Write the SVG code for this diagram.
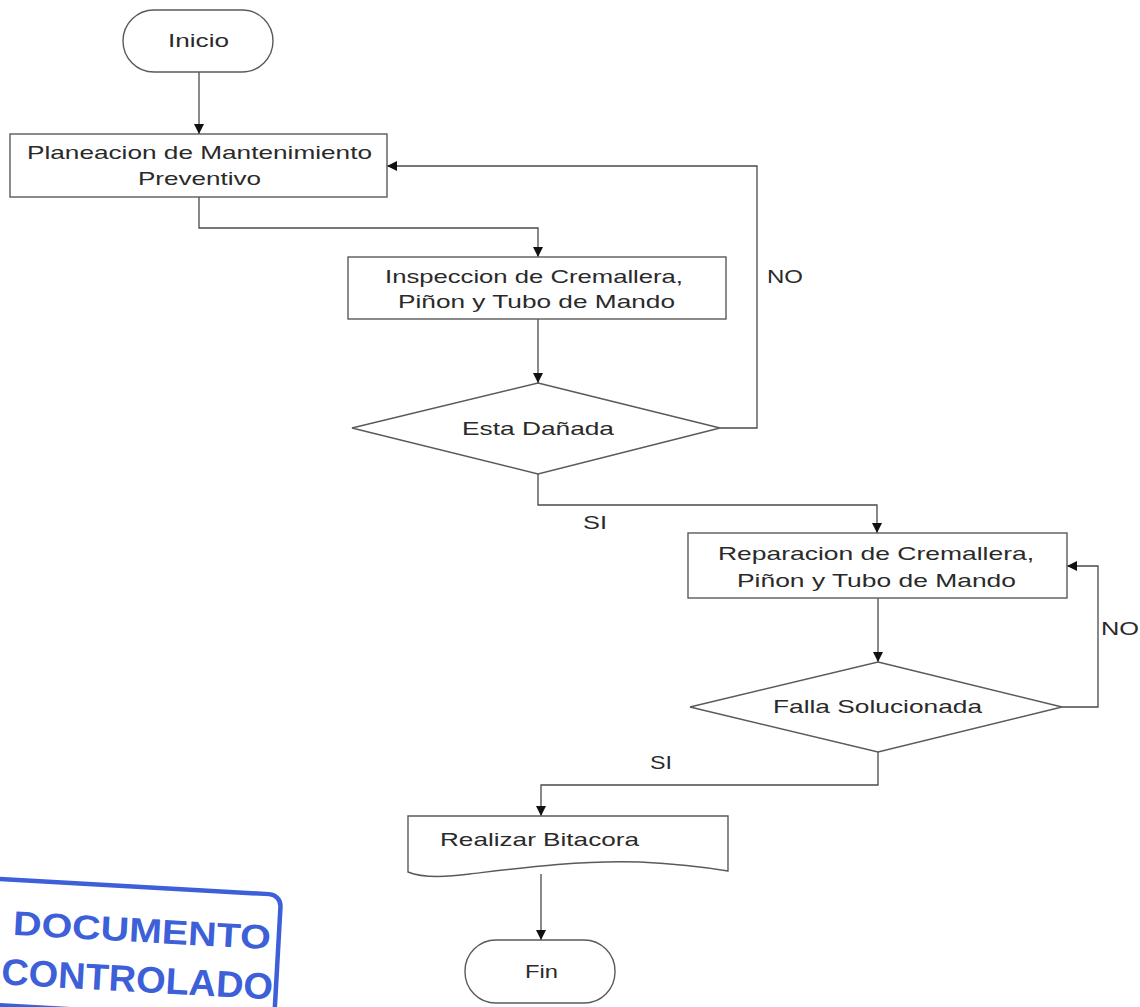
<svg xmlns="http://www.w3.org/2000/svg" width="1140" height="1007" viewBox="0 0 1140 1007">
<defs>
<style>
.shape{fill:#ffffff;stroke:#5a5a5a;stroke-width:1.4}
.conn{fill:none;stroke:#4a4a4a;stroke-width:1.3}
.t{font-family:"Liberation Sans",Arial,sans-serif;font-size:19px;fill:#2a2a2a}
.stamp{font-family:"Liberation Sans",Arial,sans-serif;font-weight:bold;fill:#3d5fd8}
</style>
<marker id="ah" viewBox="0 0 10 10" refX="10" refY="5" markerWidth="10" markerHeight="10" markerUnits="userSpaceOnUse" orient="auto">
<path d="M0,0 L10,5 L0,10 Z" fill="#111"/>
</marker>
</defs>
<rect width="1140" height="1007" fill="#ffffff"/>

<g id="connectors">
<path class="conn" d="M199,72 V134" marker-end="url(#ah)"/>
<path class="conn" d="M199,197 V228 H538 V257" marker-end="url(#ah)"/>
<path class="conn" d="M538,319 V383" marker-end="url(#ah)"/>
<path class="conn" d="M720,428 H757 V166 H387" marker-end="url(#ah)"/>
<path class="conn" d="M538,474 V505 H877 V533" marker-end="url(#ah)"/>
<path class="conn" d="M878,598 V662" marker-end="url(#ah)"/>
<path class="conn" d="M1062,707 H1098 V566 H1067" marker-end="url(#ah)"/>
<path class="conn" d="M878,752 V785 H541 V816" marker-end="url(#ah)"/>
<path class="conn" d="M541,874 V940" marker-end="url(#ah)"/>
<text class="t" x="767" y="283" textLength="36" lengthAdjust="spacingAndGlyphs">NO</text>
<text class="t" x="583" y="529" textLength="24" lengthAdjust="spacingAndGlyphs">SI</text>
<text class="t" x="1101" y="635" textLength="38" lengthAdjust="spacingAndGlyphs">NO</text>
<text class="t" x="650" y="769" textLength="22" lengthAdjust="spacingAndGlyphs">SI</text>
</g>

<g id="inicio">
<rect class="shape" x="123" y="10" width="150" height="62" rx="31" ry="31"/>
<text class="t" x="168" y="47" textLength="61" lengthAdjust="spacingAndGlyphs">Inicio</text>
</g>

<g id="planeacion">
<rect class="shape" x="10" y="134" width="377" height="63"/>
<text class="t" x="27" y="159" textLength="345" lengthAdjust="spacingAndGlyphs">Planeacion de Mantenimiento</text>
<text class="t" x="138" y="185" textLength="123" lengthAdjust="spacingAndGlyphs">Preventivo</text>
</g>

<g id="inspeccion">
<rect class="shape" x="348" y="257" width="378" height="62"/>
<text class="t" x="385" y="283" textLength="298" lengthAdjust="spacingAndGlyphs">Inspeccion de Cremallera,</text>
<text class="t" x="398" y="308" textLength="277" lengthAdjust="spacingAndGlyphs">Piñon y Tubo de Mando</text>
</g>

<g id="esta-danada">
<polygon class="shape" points="538,383 720,428 538,474 352,428"/>
<text class="t" x="462" y="435" textLength="152" lengthAdjust="spacingAndGlyphs">Esta Dañada</text>
</g>

<g id="reparacion">
<rect class="shape" x="688" y="533" width="379" height="65"/>
<text class="t" x="718" y="560" textLength="316" lengthAdjust="spacingAndGlyphs">Reparacion de Cremallera,</text>
<text class="t" x="737" y="587" textLength="279" lengthAdjust="spacingAndGlyphs">Piñon y Tubo de Mando</text>
</g>

<g id="falla-solucionada">
<polygon class="shape" points="878,662 1062,707 878,752 690,707"/>
<text class="t" x="773" y="713" textLength="209" lengthAdjust="spacingAndGlyphs">Falla Solucionada</text>
</g>

<g id="bitacora">
<path class="shape" d="M408,816 H728 V871 C710,868 680,864 640,862 C580,860 520,868 470,874 C440,878 420,877 408,872 Z"/>
<text class="t" x="440" y="846" textLength="199" lengthAdjust="spacingAndGlyphs">Realizar Bitacora</text>
</g>

<g id="fin">
<rect class="shape" x="465" y="940" width="150" height="63" rx="31" ry="31"/>
<text class="t" x="525" y="978" textLength="33" lengthAdjust="spacingAndGlyphs">Fin</text>
</g>

<g id="stamp" transform="translate(0 7) rotate(3.2 140 940)">
<rect x="-30" y="880" width="308" height="126" rx="12" ry="12" fill="none" stroke="#3d5fd8" stroke-width="4.5"/>
<text class="stamp" x="12" y="935" font-size="34" textLength="258" lengthAdjust="spacingAndGlyphs">DOCUMENTO</text>
<text class="stamp" x="3" y="985" font-size="37" textLength="272" lengthAdjust="spacingAndGlyphs">CONTROLADO</text>
</g>
</svg>
